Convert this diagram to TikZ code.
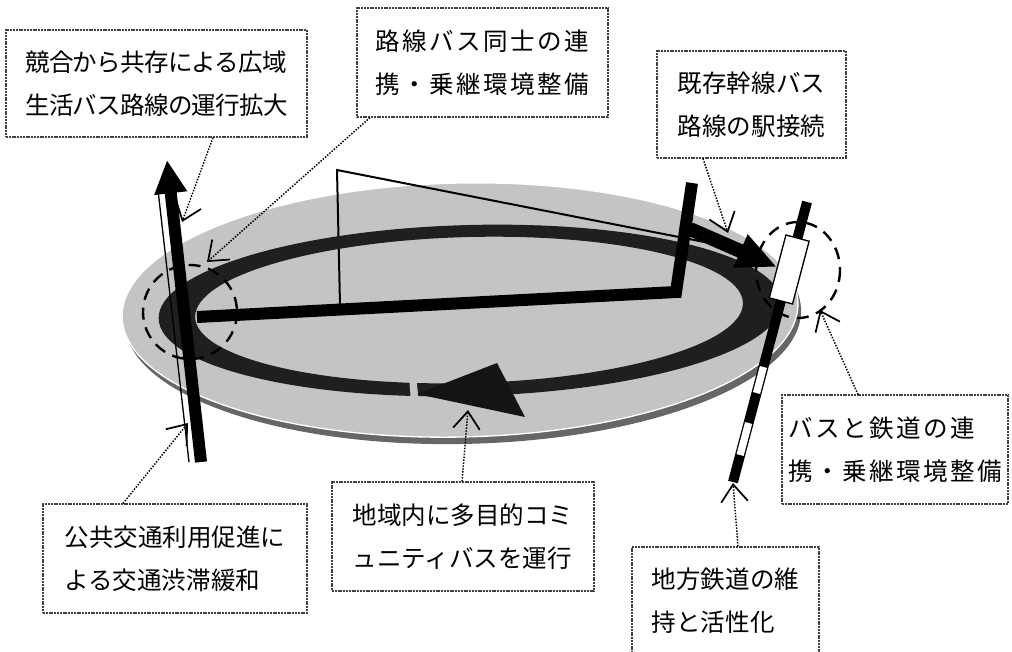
\documentclass[tikz,border=0pt]{standalone}
\usepackage{fontspec}
\setmainfont{Noto Sans CJK JP}
\usetikzlibrary{arrows.meta}
\begin{document}
\begin{tikzpicture}[x=0.75pt,y=-0.75pt,
  box/.style={draw=black!75, dash pattern=on 1.5pt off 0.6pt, line width=0.9pt, fill=white,
    inner sep=0pt, align=left, font=\fontsize{18.4pt}{32pt}\selectfont},
  callout/.style={line width=1.1pt, dash pattern=on 1.1pt off 1.1pt,
    -{Straight Barb[length=13pt,width=20pt,line width=1.3pt]}},
  dashring/.style={line width=1.8pt, dash pattern=on 9pt off 6pt},
  discfill/.style={fill=black!23},
]
\useasboundingbox (0,0) rectangle (1012,651);

% disc with shadow
\fill[black!60, rotate around={1.2:(460,310)}] (463,317) ellipse [x radius=338, y radius=127];
\filldraw[discfill, draw=white, line width=1pt, rotate around={1.2:(460,310)}] (460,310) ellipse [x radius=338, y radius=127];

% thin line
\draw[line width=1.5pt, line join=miter] (340,305) -- (337,170) -- (735,248);

% ring
\fill[black!88, even odd rule, rotate around={1.5:(470,310)}]
  (470,310.5) ellipse [x radius=311.5, y radius=85.5]
  (469,310) ellipse [x radius=274, y radius=73];

% gap and arrowhead on ring
\fill[discfill] (409,375) -- (416,375) -- (419,403) -- (411,403) -- cycle;
\fill[black!92] (417,394) -- (497,363) -- (525,417) -- cycle;

% trunk line (L shape)
\draw[line width=9pt, line join=miter] (197,317) -- (676,292) -- (692,183);
\draw[line width=10.5pt, -{Triangle[length=30pt,width=25pt]}] (690,229) -- (777,267);

% railway
\coordinate (r0) at (807,202);
\coordinate (r1) at (797.7,237);
\coordinate (r2) at (780.6,302);
\coordinate (r3) at (763.4,367);
\coordinate (r4) at (756.5,393);
\coordinate (r5) at (748.6,423);
\coordinate (r6) at (740.1,455);
\coordinate (r7) at (733,482);
\draw[line width=7.5pt] (r0) -- (r7);
\draw[white, line width=5.5pt] (r3) -- (r4);
\draw[white, line width=5.5pt] (r5) -- (r6);
\filldraw[fill=white, draw=black, line width=1pt] (785.9,235.0) -- (809.1,241.2) -- (792.5,304.0) -- (769.3,297.8) -- cycle;

% left pole
\draw[line width=1pt] (158,190) -- (189,462);
\draw[line width=9pt, -{Triangle[length=25pt,width=23pt]}] (201,462) -- (167,160);

% dashed circles
\draw[dashring] (190,312) circle [radius=47];
\draw[dashring] (798,270) ellipse [x radius=42, y radius=48];

% boxes
\node[box, minimum width=225.75pt, minimum height=80.25pt] (b1) at (156.5,83.5)
  {\addfontfeature{LetterSpace=-3}競合から共存による広域\\\addfontfeature{LetterSpace=-3}生活バス路線の運行拡大};
\node[box, minimum width=188.25pt, minimum height=81.75pt] (b2) at (482.5,62.5)
  {\addfontfeature{LetterSpace=10}路線バス同士の連\\\addfontfeature{LetterSpace=10}携・乗継環境整備};
\node[box, minimum width=141.75pt, minimum height=80.25pt] (b3) at (751.5,104.5)
  {既存幹線バス\\路線の駅接続};
\node[box, minimum width=169.5pt, minimum height=81.75pt] (b4) at (895,449.5)
  {\addfontfeature{LetterSpace=10}バスと鉄道の連\\\addfontfeature{LetterSpace=10}携・乗継環境整備};
\node[box, minimum width=140.25pt, minimum height=80.25pt] (b5) at (725.5,600.5)
  {地方鉄道の維\\持と活性化};
\node[box, minimum width=198pt, minimum height=81.75pt] (b6) at (175,558.5)
  {公共交通利用促進に\\よる交通渋滞緩和};
\node[box, minimum width=196.5pt, minimum height=81.75pt] (b7) at (463,536.5)
  {地域内に多目的コミ\\ュニティバスを運行};

% callouts
\coordinate (s1) at (213,0);   \coordinate (t1) at (182,222);
\coordinate (s2) at (370,0);   \coordinate (t2) at (207,262);
\coordinate (s3) at (703,0);   \coordinate (t3) at (728,233);
\coordinate (s4) at (858,0);   \coordinate (t4) at (820,310);
\coordinate (s5) at (738,0);   \coordinate (t5) at (733,483);
\coordinate (s6) at (123,0);   \coordinate (t6) at (188,423);
\coordinate (s7) at (462,0);   \coordinate (t7) at (468,410);
\draw[callout] (b1.south -| s1) -- (t1);
\draw[callout] (b2.south -| s2) -- (t2);
\draw[callout] (b3.south -| s3) -- (t3);
\draw[callout] (b4.north -| s4) -- (t4);
\draw[callout] (b5.north -| s5) -- (t5);
\draw[callout] (b6.north -| s6) -- (t6);
\draw[callout] (b7.north -| s7) -- (t7);
\end{tikzpicture}
\end{document}
